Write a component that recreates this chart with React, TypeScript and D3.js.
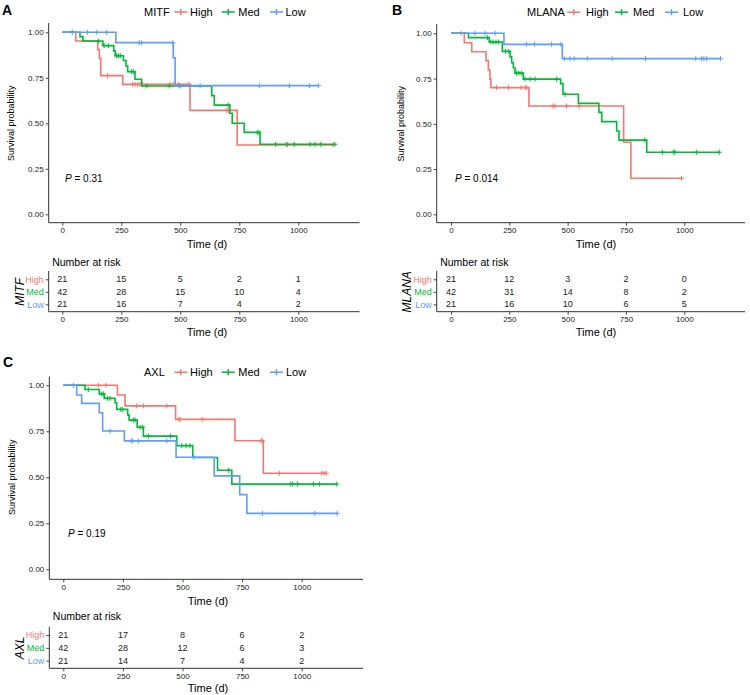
import React, { useEffect, useRef } from "react";
import * as d3 from "d3";

// Kaplan-Meier curves for MITF / MLANA / AXL expression groups, with risk tables

const strata = ["High", "Med", "Low"];
const strataColors = ["#F8766D", "#00BA38", "#619CFF"];
const timeTicks = [0, 250, 500, 750, 1000];
const probTicks = [0, 0.25, 0.5, 0.75, 1];

// ---- MITF ----
const mitfHighSteps = [[0, 1], [57, 0.952], [150, 0.905], [157, 0.857], [163, 0.762], [256, 0.714], [541, 0.571], [741, 0.381]];
const mitfHighCensor = [192, 298, 308, 318, 329, 340, 456, 470, 491, 537, 697, 703, 953, 1148];
const mitfMedSteps = [[0, 1], [75, 0.976], [87, 0.952], [172, 0.927], [218, 0.898], [224, 0.871], [259, 0.845], [270, 0.815], [277, 0.784], [308, 0.742], [336, 0.705], [633, 0.652], [644, 0.6], [710, 0.555], [720, 0.5], [771, 0.45], [838, 0.385]];
const mitfMedCensor = [42, 153, 177, 195, 230, 238, 246, 294, 301, 358, 453, 499, 703, 826, 833, 904, 951, 983, 1050, 1071, 1095, 1155];
const mitfLowSteps = [[0, 1], [227, 0.943], [470, 0.86], [478, 0.707]];
const mitfLowCensor = [106, 146, 188, 326, 336, 468, 495, 584, 835, 962, 1047, 1085];
const mitfRiskHigh = [21, 15, 5, 2, 1];
const mitfRiskMed = [42, 28, 15, 10, 4];
const mitfRiskLow = [21, 16, 7, 4, 2];

// ---- MLANA ----
const mlanaHighSteps = [[0, 1], [57, 0.948], [89, 0.898], [150, 0.849], [160, 0.797], [167, 0.747], [171, 0.7], [334, 0.598], [740, 0.398], [771, 0.199]];
const mlanaHighCensor = [43, 195, 246, 300, 318, 325, 437, 445, 495, 549, 988];
const mlanaMedSteps = [[0, 1], [75, 0.976], [164, 0.952], [220, 0.9], [253, 0.87], [260, 0.838], [267, 0.81], [274, 0.78], [310, 0.747], [470, 0.722], [480, 0.663], [546, 0.613], [634, 0.563], [646, 0.512], [710, 0.46], [720, 0.41], [839, 0.343]];
const mlanaMedCensor = [156, 171, 181, 193, 203, 234, 248, 281, 291, 303, 317, 339, 360, 453, 489, 831, 906, 953, 960, 1053, 1150];
const mlanaLowSteps = [[0, 1], [227, 0.939], [477, 0.86]];
const mlanaLowCensor = [103, 146, 189, 324, 357, 431, 471, 486, 510, 528, 584, 691, 834, 1049, 1074, 1084, 1096, 1155];
const mlanaRiskHigh = [21, 12, 3, 2, 0];
const mlanaRiskMed = [42, 31, 14, 8, 2];
const mlanaRiskLow = [21, 16, 10, 6, 5];

// ---- AXL ----
const axlHighSteps = [[0, 1], [227, 0.947], [259, 0.888], [471, 0.815], [720, 0.699], [839, 0.522]];
const axlHighCensor = [147, 179, 308, 336, 434, 485, 490, 583, 829, 835, 906, 1084, 1094, 1103];
const axlMedSteps = [[0, 1], [91, 0.977], [151, 0.953], [172, 0.929], [217, 0.905], [224, 0.869], [270, 0.839], [276, 0.811], [310, 0.772], [336, 0.724], [476, 0.672], [543, 0.608], [647, 0.538], [707, 0.463]];
const axlMedCensor = [105, 161, 168, 185, 196, 241, 249, 294, 301, 322, 333, 357, 450, 497, 515, 531, 694, 954, 961, 982, 1049, 1074, 1147];
const axlLowSteps = [[0, 1], [56, 0.947], [77, 0.902], [151, 0.851], [165, 0.752], [256, 0.698], [473, 0.609], [633, 0.508], [740, 0.406], [770, 0.304]];
const axlLowCensor = [42, 196, 284, 291, 315, 434, 548, 835, 1055, 1149];
const axlRiskHigh = [21, 17, 8, 6, 2];
const axlRiskMed = [42, 28, 12, 6, 3];
const axlRiskLow = [21, 14, 7, 4, 2];

const FONT = "'Liberation Sans', Arial, Helvetica, sans-serif";

const panels = [
  {
    letter: "A", gene: "MITF", pval: "0.31",
    steps: [mitfHighSteps, mitfMedSteps, mitfLowSteps],
    censor: [mitfHighCensor, mitfMedCensor, mitfLowCensor],
    risk: [mitfRiskHigh, mitfRiskMed, mitfRiskLow],
    // layout in pixels
    letterX: 2, letterY: 15,
    axisX: 48.7, x0: 62.3, x1000: 298.3, right: 359.5,
    top: 23, y1: 32.3, y0: 214.3, axisY: 222.7,
    survLabelX: 11, xTitleX: 207,
    legendY: 12, legendX: [144, 174.3, 190, 221.7, 238.3, 270, 285.5],
    pX: 65, pY: 178,
    tTitleY: 262, rowY: [279.3, 292, 304.3], tTop: 271, tAxisY: 311.7,
    groupLabelX: 20,
  },
  {
    letter: "B", gene: "MLANA", pval: "0.014",
    steps: [mlanaHighSteps, mlanaMedSteps, mlanaLowSteps],
    censor: [mlanaHighCensor, mlanaMedCensor, mlanaLowCensor],
    risk: [mlanaRiskHigh, mlanaRiskMed, mlanaRiskLow],
    letterX: 392, letterY: 15,
    axisX: 436.7, x0: 451, x1000: 684.3, right: 745,
    top: 24, y1: 33.3, y0: 214.3, axisY: 222.7,
    survLabelX: 401, xTitleX: 596,
    legendY: 12.3, legendX: [527, 567.3, 586, 615, 633, 665, 683],
    pX: 455, pY: 178.3,
    tTitleY: 262, rowY: [279.3, 292, 304.3], tTop: 271, tAxisY: 311.7,
    groupLabelX: 407,
  },
  {
    letter: "C", gene: "AXL", pval: "0.19",
    steps: [axlHighSteps, axlMedSteps, axlLowSteps],
    censor: [axlHighCensor, axlMedCensor, axlLowCensor],
    risk: [axlRiskHigh, axlRiskMed, axlRiskLow],
    letterX: 3, letterY: 367,
    axisX: 49.3, x0: 63.3, x1000: 301.7, right: 363,
    top: 376.5, y1: 385.3, y0: 569.3, axisY: 579.3,
    survLabelX: 12, xTitleX: 208,
    legendY: 372.3, legendX: [144, 174.3, 190, 221.7, 238.3, 270, 286],
    pX: 68, pY: 532.7,
    tTitleY: 616, rowY: [635, 648.3, 660.7], tTop: 627, tAxisY: 668.3,
    groupLabelX: 20,
  },
];

function survAt(steps, t) {
  let s = 1;
  for (const [ts, v] of steps) if (ts <= t) s = v;
  return s;
}

function styleAxis(sel) {
  sel.select(".domain").remove();
  sel.selectAll(".tick line").attr("stroke", "#333").attr("stroke-width", 0.9);
  sel.selectAll(".tick text").attr("font-family", FONT).attr("font-size", 8).attr("fill", "#222");
}

function drawPanel(svg, p) {
  const g = svg.append("g");
  const x = d3.scaleLinear().domain([0, 1000]).range([p.x0, p.x1000]);
  const y = d3.scaleLinear().domain([0, 1]).range([p.y0, p.y1]);

  g.append("text").attr("x", p.letterX).attr("y", p.letterY)
    .attr("font-family", FONT).attr("font-weight", "bold").attr("font-size", 14)
    .text(p.letter);

  // axes
  g.append("line").attr("x1", p.axisX).attr("x2", p.axisX).attr("y1", p.top).attr("y2", p.axisY)
    .attr("stroke", "#333").attr("stroke-width", 1);
  g.append("line").attr("x1", p.axisX).attr("x2", p.right).attr("y1", p.axisY).attr("y2", p.axisY)
    .attr("stroke", "#333").attr("stroke-width", 1);

  g.append("g").attr("transform", `translate(0,${p.axisY})`)
    .call(d3.axisBottom(x).tickValues(timeTicks).tickFormat(d3.format("d")).tickSize(3).tickPadding(2))
    .call(styleAxis);
  g.append("g").attr("transform", `translate(${p.axisX},0)`)
    .call(d3.axisLeft(y).tickValues(probTicks).tickFormat(d3.format(".2f")).tickSize(3).tickPadding(2))
    .call(styleAxis);

  g.append("text").attr("x", p.xTitleX).attr("y", p.axisY + 21.5)
    .attr("text-anchor", "middle").attr("dominant-baseline", "central")
    .attr("font-family", FONT).attr("font-size", 11).text("Time (d)");
  g.append("text")
    .attr("transform", `translate(${p.survLabelX},${(p.y0 + p.y1) / 2}) rotate(-90)`)
    .attr("text-anchor", "middle").attr("dominant-baseline", "central")
    .attr("font-family", FONT).attr("font-size", 9).text("Survival probability");

  // curves
  const line = d3.line().x((d) => x(d[0])).y((d) => y(d[1])).curve(d3.curveStepAfter);
  strata.forEach((s, i) => {
    const steps = p.steps[i];
    const cens = p.censor[i];
    const tEnd = Math.max(steps[steps.length - 1][0], d3.max(cens));
    const pts = steps.concat([[tEnd, steps[steps.length - 1][1]]]);
    g.append("path").attr("d", line(pts)).attr("fill", "none")
      .attr("stroke", strataColors[i]).attr("stroke-width", 1.6);
    g.append("g").selectAll("path").data(cens).join("path")
      .attr("d", (t) => {
        const cx = x(t), cy = y(survAt(steps, t));
        return `M${cx - 2.5},${cy}H${cx + 2.5}M${cx},${cy - 2.5}V${cy + 2.5}`;
      })
      .attr("stroke", strataColors[i]).attr("stroke-width", 1);
  });

  // legend
  const lx = p.legendX;
  g.append("text").attr("x", lx[0]).attr("y", p.legendY).attr("dominant-baseline", "central")
    .attr("font-family", FONT).attr("font-size", 11).text(p.gene);
  strata.forEach((s, i) => {
    const x1 = lx[1 + 2 * i];
    const cx = x1 + 6.5;
    g.append("path")
      .attr("d", `M${x1},${p.legendY}H${x1 + 13}M${cx},${p.legendY - 3}V${p.legendY + 3}`)
      .attr("stroke", strataColors[i]).attr("stroke-width", 1.5);
    g.append("text").attr("x", lx[2 + 2 * i]).attr("y", p.legendY).attr("dominant-baseline", "central")
      .attr("font-family", FONT).attr("font-size", 11).text(s);
  });

  // p value
  const pt = g.append("text").attr("x", p.pX).attr("y", p.pY).attr("dominant-baseline", "central")
    .attr("font-family", FONT).attr("font-size", 10);
  pt.append("tspan").attr("font-style", "italic").text("P");
  pt.append("tspan").text(` = ${p.pval}`);

  // risk table
  g.append("text").attr("x", p.axisX + 3.5).attr("y", p.tTitleY).attr("dominant-baseline", "central")
    .attr("font-family", FONT).attr("font-size", 10.5).text("Number at risk");

  const rowScale = d3.scalePoint().domain(strata).range([p.rowY[0], p.rowY[2]]);
  g.append("line").attr("x1", p.axisX).attr("x2", p.axisX).attr("y1", p.tTop).attr("y2", p.tAxisY)
    .attr("stroke", "#333").attr("stroke-width", 1);
  g.append("line").attr("x1", p.axisX).attr("x2", p.right).attr("y1", p.tAxisY).attr("y2", p.tAxisY)
    .attr("stroke", "#333").attr("stroke-width", 1);
  const ya = g.append("g").attr("transform", `translate(${p.axisX},0)`)
    .call(d3.axisLeft(rowScale).tickSize(3).tickPadding(2))
    .call(styleAxis);
  ya.selectAll(".tick text").attr("font-size", 9).attr("fill", (d) => strataColors[strata.indexOf(d)]);
  g.append("g").attr("transform", `translate(0,${p.tAxisY})`)
    .call(d3.axisBottom(x).tickValues(timeTicks).tickFormat(d3.format("d")).tickSize(3).tickPadding(2))
    .call(styleAxis);
  g.append("text").attr("x", p.xTitleX).attr("y", p.tAxisY + 20)
    .attr("text-anchor", "middle").attr("dominant-baseline", "central")
    .attr("font-family", FONT).attr("font-size", 11).text("Time (d)");
  g.append("text")
    .attr("transform", `translate(${p.groupLabelX},${rowScale("Med")}) rotate(-90)`)
    .attr("text-anchor", "middle").attr("dominant-baseline", "central")
    .attr("font-family", FONT).attr("font-size", 12).attr("font-style", "italic").text(p.gene);

  strata.forEach((s, i) => {
    g.append("g").selectAll("text").data(timeTicks).join("text")
      .attr("x", (t) => x(t)).attr("y", rowScale(s))
      .attr("text-anchor", "middle").attr("dominant-baseline", "central")
      .attr("font-family", FONT).attr("font-size", 9).attr("fill", "#222")
      .text((t, j) => p.risk[i][j]);
  });
}

export default function App() {
  const svgRef = useRef(null);

  useEffect(() => {
    const svg = d3.select(svgRef.current);
    svg.selectAll("*").remove();
    svg.append("rect").attr("width", 750).attr("height", 695).attr("fill", "#fff");
    panels.forEach((p) => drawPanel(svg, p));
  }, []);

  return (
    <svg ref={svgRef} width={750} height={695}
      style={{ position: "absolute", left: 0, top: 0 }} />
  );
}
